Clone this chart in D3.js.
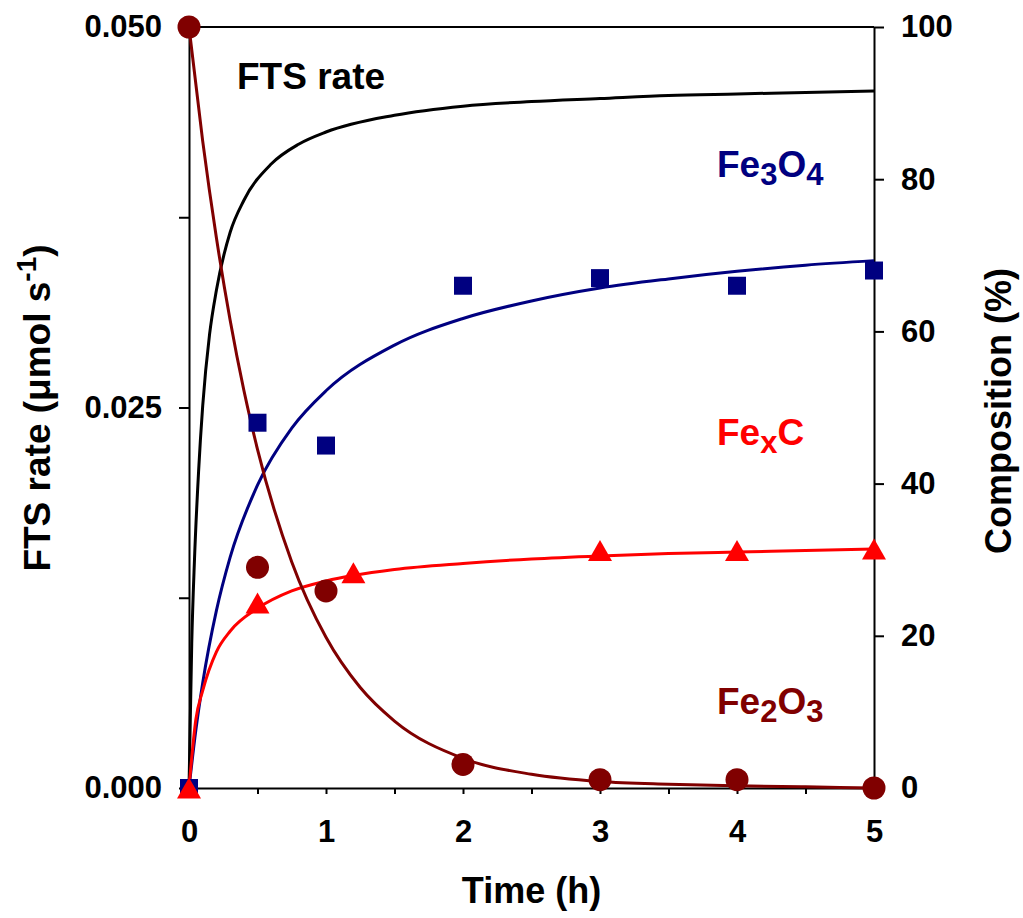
<!DOCTYPE html>
<html>
<head>
<meta charset="utf-8">
<script src="https://cdn.jsdelivr.net/npm/d3@7"></script>
<style>
  html, body { margin: 0; padding: 0; background: #fff; }
  svg { display: block; }
  text { font-family: "Liberation Sans", Arial, Helvetica, sans-serif; font-weight: bold; }
</style>
</head>
<body>
<svg id="chart" width="1023" height="918"></svg>
<script>
// Measured phase composition (%) versus time on stream (h)
const sampleHours = [0, 0.5, 1, 2, 3, 4, 5];
const fe3o4Measured = [0, 48, 45, 66, 67, 66, 68];
const fe2o3Measured = [100, 29, 25.9, 3.1, 1.1, 1.1, 0];
const fexcHours = [0, 0.5, 1.2, 3, 4, 5];
const fexcMeasured = [0, 24.3, 28.3, 31.2, 31.2, 31.4];

// Fitted trend lines
const ftsHours = [0, 0.02, 0.04, 0.07, 0.1, 0.15, 0.2, 0.3, 0.4, 0.6, 0.8, 1, 1.5, 2, 2.5, 3, 3.5, 4, 4.5, 5];
const ftsRate = [0, 0.0095, 0.0150, 0.0208, 0.0251, 0.0298, 0.0327, 0.0365, 0.0386, 0.0410, 0.0423, 0.0431, 0.0442, 0.0448, 0.0451, 0.0453, 0.0455, 0.0456, 0.0457, 0.0458];
const fitHours = [0, 0.05, 0.1, 0.2, 0.3, 0.5, 0.75, 1, 1.5, 2, 2.5, 3, 3.5, 4, 4.5, 5];
const fe3o4Fit = [0, 7.6, 13.8, 23.3, 30.3, 39.8, 47.3, 52.2, 58.2, 61.7, 64.0, 65.7, 66.9, 67.9, 68.7, 69.3];
const fexcFit = [0, 9.0, 12.8, 17.9, 20.6, 23.6, 25.9, 27.2, 28.7, 29.5, 30.1, 30.5, 30.8, 31.0, 31.2, 31.4];
const fe2o3FitHours = [0, 0.1, 0.2, 0.3, 0.4, 0.5, 0.75, 1, 1.25, 1.5, 2, 2.5, 3, 3.5, 4, 4.5, 5];
const fe2o3Fit = [100, 85.0, 72.3, 61.5, 52.3, 44.5, 29.7, 19.8, 13.2, 8.8, 3.9, 1.8, 0.85, 0.5, 0.3, 0.15, 0];

// Axis ticks
const timeTicks = [0, 0.5, 1, 1.5, 2, 2.5, 3, 3.5, 4, 4.5, 5];
const timeLabels = ["0", "", "1", "", "2", "", "3", "", "4", "", "5"];
const rateTicks = [0, 0.0125, 0.025, 0.0375, 0.05];
const rateLabels = ["0.000", "", "0.025", "", "0.050"];
const compTicks = [0, 20, 40, 60, 80, 100];
const compLabels = ["0", "20", "40", "60", "80", "100"];

const colors = { fts: "#000000", fe3o4: "#000080", fexc: "#ff0000", fe2o3: "#800000" };

const svg = d3.select("#chart");
const L = 189, R = 874, T = 27, B = 788;

const x = d3.scaleLinear().domain([0, 5]).range([L, R]);
const yRate = d3.scaleLinear().domain([0, 0.05]).range([B, T]);
const yComp = d3.scaleLinear().domain([0, 100]).range([B, T]);

const tickFont = 31;

// Axes
const gx = svg.append("g").attr("transform", `translate(0,${B})`)
  .call(d3.axisBottom(x).tickValues(timeTicks)
    .tickFormat((d, i) => timeLabels[i]).tickSizeInner(6).tickSizeOuter(0).tickPadding(26));
const gl = svg.append("g").attr("transform", `translate(${L},0)`)
  .call(d3.axisLeft(yRate).tickValues(rateTicks)
    .tickFormat((d, i) => rateLabels[i]).tickSizeInner(10).tickSizeOuter(0).tickPadding(17));
const gr = svg.append("g").attr("transform", `translate(${R},0)`)
  .call(d3.axisRight(yComp).tickValues(compTicks)
    .tickFormat((d, i) => compLabels[i]).tickSizeInner(10).tickSizeOuter(0).tickPadding(17));

[gx, gl, gr].forEach(g => {
  g.select(".domain").attr("stroke", "#000").attr("stroke-width", 2);
  g.selectAll(".tick line").attr("stroke", "#000").attr("stroke-width", 2);
  g.selectAll(".tick text").attr("fill", "#000").style("font-size", tickFont + "px")
    .style("font-family", "'Liberation Sans', Arial, sans-serif").style("font-weight", "bold");
});

// Top frame line
svg.append("line").attr("x1", L).attr("x2", R).attr("y1", T).attr("y2", T)
  .attr("stroke", "#000").attr("stroke-width", 2);

// Trend lines
function drawLine(xs, ys, yScale, color) {
  const pts = xs.map((t, i) => [t, ys[i]]);
  svg.append("path")
    .attr("d", d3.line().x(d => x(d[0])).y(d => yScale(d[1])).curve(d3.curveMonotoneX)(pts))
    .attr("fill", "none").attr("stroke", color).attr("stroke-width", 3);
}
drawLine(ftsHours, ftsRate, yRate, colors.fts);
drawLine(fitHours, fe3o4Fit, yComp, colors.fe3o4);
drawLine(fitHours, fexcFit, yComp, colors.fexc);
drawLine(fe2o3FitHours, fe2o3Fit, yComp, colors.fe2o3);

// Measured points
svg.append("g").selectAll("rect")
  .data(sampleHours.map((t, i) => [t, fe3o4Measured[i]]))
  .join("rect")
  .attr("x", d => x(d[0]) - 9).attr("y", d => yComp(d[1]) - 9)
  .attr("width", 18).attr("height", 18).attr("fill", colors.fe3o4);

svg.append("g").selectAll("circle")
  .data(sampleHours.map((t, i) => [t, fe2o3Measured[i]]))
  .join("circle")
  .attr("cx", d => x(d[0])).attr("cy", d => yComp(d[1]))
  .attr("r", 11.5).attr("fill", colors.fe2o3);

svg.append("g").selectAll("path")
  .data(fexcHours.map((t, i) => [t, fexcMeasured[i]]))
  .join("path")
  .attr("transform", d => `translate(${x(d[0])},${yComp(d[1])})`)
  .attr("d", "M0,-10.5L12,10.5L-12,10.5Z")
  .attr("fill", colors.fexc);

// Axis titles
svg.append("text").attr("x", (L + R) / 2).attr("y", 903)
  .attr("text-anchor", "middle").style("font-size", "36px").text("Time (h)");

const lt = svg.append("text").attr("transform", "translate(50,408) rotate(-90)")
  .attr("text-anchor", "middle").style("font-size", "37px");
lt.append("tspan").text("FTS rate (μmol s");
lt.append("tspan").attr("dy", -14).style("font-size", "28px").text("-1");
lt.append("tspan").attr("dy", 14).text(")");

svg.append("text").attr("transform", "translate(1011,411) rotate(-90)")
  .attr("text-anchor", "middle").style("font-size", "36px").text("Composition (%)");

// Series labels
function chemLabel(xp, yp, color, parts) {
  const t = svg.append("text").attr("x", xp).attr("y", yp).attr("fill", color)
    .style("font-size", "37px");
  let shift = 0;
  parts.forEach(([s, sub]) => {
    const want = sub ? 8 : 0;
    t.append("tspan").attr("dy", want - shift)
      .style("font-size", sub ? "31px" : "37px").text(s);
    shift = want;
  });
}
svg.append("text").attr("x", 237).attr("y", 89).attr("fill", colors.fts)
  .style("font-size", "37px").text("FTS rate");
chemLabel(717, 177, colors.fe3o4, [["Fe", false], ["3", true], ["O", false], ["4", true]]);
chemLabel(717, 445, colors.fexc, [["Fe", false], ["x", true], ["C", false]]);
chemLabel(717, 714, colors.fe2o3, [["Fe", false], ["2", true], ["O", false], ["3", true]]);
</script>
</body>
</html>
